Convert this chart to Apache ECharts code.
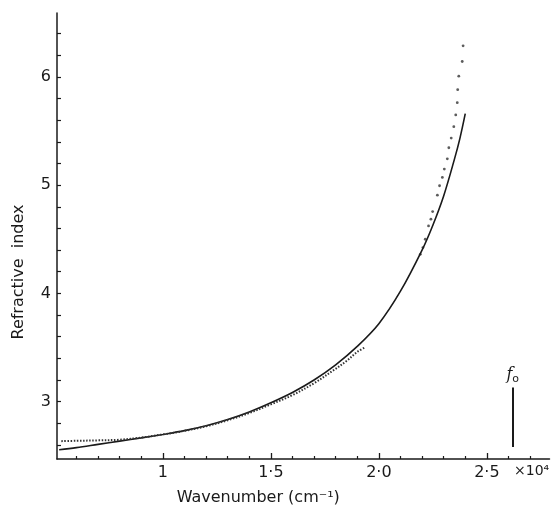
<!DOCTYPE html>
<html>
<head>
<meta charset="utf-8">
<script src="https://cdn.jsdelivr.net/npm/echarts@6/dist/echarts.min.js"></script>
<style>
  html, body { margin: 0; padding: 0; background: #fff; }
  #chart { width: 555px; height: 512px; }
</style>
</head>
<body>
<div id="chart"></div>
<script>
// x in units of 10^4 cm^-1, y = refractive index
// solid (fitted) curve
var curveX = [0.52, 0.6, 0.7, 0.8, 0.9, 1.0, 1.1, 1.2, 1.3, 1.4, 1.5, 1.6, 1.7, 1.8, 1.9, 2.0, 2.1, 2.2, 2.25, 2.3, 2.35, 2.375, 2.40];
var curveY = [2.555, 2.575, 2.605, 2.635, 2.665, 2.697, 2.732, 2.777, 2.835, 2.905, 2.99, 3.085, 3.2, 3.34, 3.51, 3.72, 4.02, 4.40, 4.63, 4.90, 5.24, 5.43, 5.66];
// measured points, low range (dense, drawn dotted)
var lowX = [0.53, 0.6, 0.7, 0.8, 0.9, 1.0, 1.1, 1.2, 1.3, 1.4, 1.5, 1.6, 1.7, 1.79, 1.85, 1.9, 1.935];
var lowY = [2.635, 2.638, 2.642, 2.648, 2.668, 2.697, 2.73, 2.772, 2.828, 2.895, 2.975, 3.06, 3.17, 3.29, 3.375, 3.46, 3.5];
// measured points, high range
var highX = [2.192, 2.204, 2.215, 2.230, 2.241, 2.249, 2.271, 2.281, 2.294, 2.303, 2.317, 2.324, 2.335, 2.347, 2.356, 2.363, 2.365, 2.370, 2.386, 2.390];
var highY = [4.361, 4.423, 4.500, 4.623, 4.685, 4.756, 4.907, 4.994, 5.071, 5.148, 5.243, 5.345, 5.435, 5.540, 5.648, 5.762, 5.882, 6.006, 6.142, 6.287];
// axes
var xMajor = [1, 1.5, 2, 2.5];
var xLabels = ['1', '1·5', '2·0', '2·5'];
var xMinor = [0.6, 0.7, 0.8, 0.9, 1.1, 1.2, 1.3, 1.4, 1.6, 1.7, 1.8, 1.9, 2.1, 2.2, 2.3, 2.4, 2.6, 2.7];
var yTicks = [2.6, 2.8, 3.0, 3.2, 3.4, 3.6, 3.8, 4.0, 4.2, 4.4, 4.6, 4.8, 5.0, 5.2, 5.4, 5.6, 5.8, 6.0, 6.2, 6.4];
var yMajor = [3, 4, 5, 6];
var yLabels = ['3', '4', '5', '6'];
// f0 arrow
var arrowX = 2.62;
var arrowY = [2.58, 3.13];

function zip(xs, ys) {
    var out = [];
    for (var i = 0; i < xs.length; i++) out.push([xs[i], ys[i]]);
    return out;
}

var ink = '#1a1a1a';
var font = 'DejaVu Sans';

var myChart = echarts.init(document.getElementById('chart'));
var option = {
    backgroundColor: '#fff',
    animation: false,
    textStyle: { fontFamily: font, color: ink },
    grid: { left: 57, top: 13, width: 492.5, height: 446, containLabel: false, outerBoundsMode: 'none' },
    xAxis: [
        {
            type: 'value', position: 'bottom', min: 0.51, max: 2.79,
            axisLine: { onZero: false, lineStyle: { color: ink, width: 1.5 } },
            axisTick: { inside: true, length: 6, lineStyle: { color: ink, width: 1.3 }, customValues: xMajor },
            axisLabel: {
                customValues: xMajor, margin: 6, fontSize: 16, color: ink, fontFamily: font,
                formatter: function (v) { return xLabels[xMajor.indexOf(v)]; }
            },
            splitLine: { show: false },
            name: 'Wavenumber (cm⁻¹)', nameLocation: 'middle', nameGap: 31,
            nameTextStyle: { fontSize: 16, color: ink, fontFamily: font, padding: [0, 90, 0, 0] }
        },
        {
            type: 'value', position: 'bottom', min: 0.51, max: 2.79,
            axisLine: { show: false, onZero: false },
            axisTick: { inside: true, length: 3, lineStyle: { color: ink, width: 1.2 }, customValues: xMinor },
            axisLabel: { show: false },
            splitLine: { show: false }
        }
    ],
    yAxis: {
        type: 'value', min: 2.47, max: 6.59,
        axisLine: { onZero: false, lineStyle: { color: ink, width: 1.5 } },
        axisTick: { inside: true, length: 4, lineStyle: { color: ink, width: 1.2 }, customValues: yTicks },
        axisLabel: {
            customValues: yMajor, margin: 6, fontSize: 16, color: ink, fontFamily: font,
            formatter: function (v) { return yLabels[yMajor.indexOf(v)]; }
        },
        splitLine: { show: false },
        name: 'Refractive  index', nameLocation: 'middle', nameGap: 30,
        nameTextStyle: { fontSize: 16, color: ink, fontFamily: font, padding: [0, 72, 0, 0] }
    },
    series: [
        {
            type: 'line', data: zip(curveX, curveY), smooth: 0.35, showSymbol: false,
            lineStyle: { color: ink, width: 1.6 }
        },
        {
            type: 'line', data: zip(lowX, lowY), smooth: 0.35, showSymbol: false,
            lineStyle: { color: '#333', width: 2, type: [1.5, 1.6] }
        },
        {
            type: 'scatter', data: zip(highX, highY), symbol: 'circle', symbolSize: 2.8,
            itemStyle: { color: '#333' }
        },
        {
            type: 'line', data: [], silent: true,
            markLine: {
                silent: true, symbol: ['none', 'arrow'], symbolSize: [0, 6],
                lineStyle: { color: ink, width: 2, type: 'solid' },
                label: {
                    position: 'end', distance: 3,
                    formatter: '{f|f}{o|o}',
                    rich: {
                        f: { fontSize: 16, fontStyle: 'italic', fontFamily: 'DejaVu Serif', color: ink },
                        o: { fontSize: 11, fontFamily: font, color: ink, verticalAlign: 'bottom', padding: [8, 0, 0, 0] }
                    }
                },
                data: [[{ coord: [arrowX, arrowY[0]] }, { coord: [arrowX, arrowY[1]] }]]
            }
        }
    ],
    graphic: [
        {
            type: 'text', left: 514, top: 464,
            style: { text: '×10⁴', fontSize: 14, fontFamily: font, fill: ink }
        }
    ]
};
myChart.setOption(option);
</script>
</body>
</html>
